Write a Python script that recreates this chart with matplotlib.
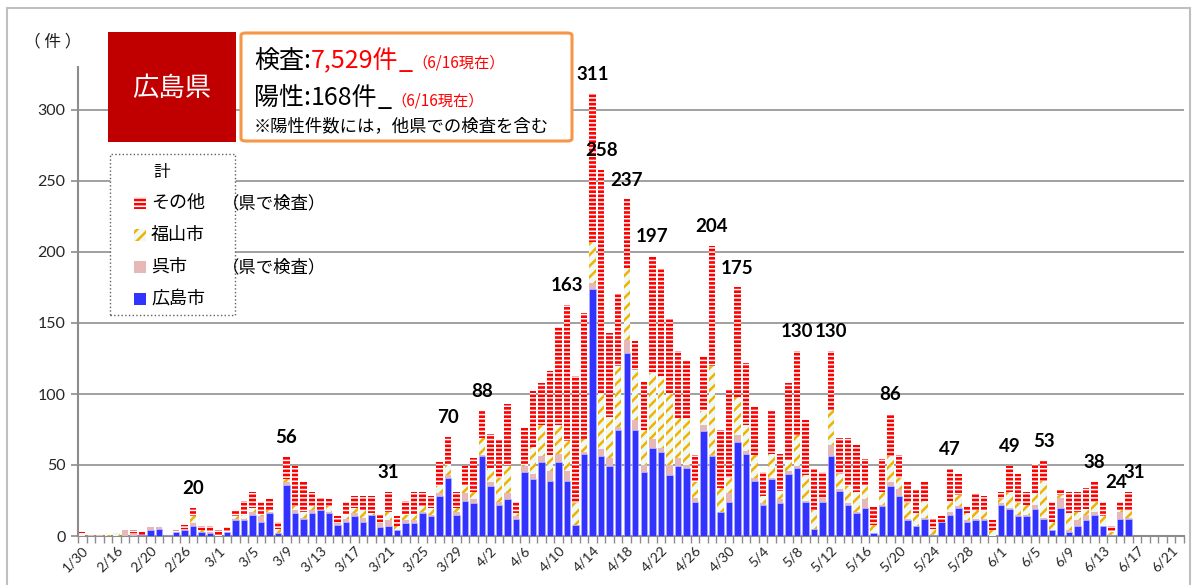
import matplotlib
matplotlib.use('Agg')
import matplotlib.pyplot as plt
from matplotlib.patches import Rectangle, FancyBboxPatch
import numpy as np
import pandas as pd

plt.rcParams['font.family'] = ['Noto Sans CJK JP', 'DejaVu Sans']
plt.rcParams['hatch.linewidth'] = 1.0

# ---------------- data ----------------
early_dates = ['1/30', '2/13', '2/14', '2/15', '2/16', '2/17', '2/18', '2/19',
               '2/20', '2/21', '2/22', '2/25', '2/26', '2/27', '2/28', '2/29']
later_dates = [f'{d.month}/{d.day}' for d in pd.date_range('2020-03-01', '2020-06-22')]
dates = early_dates + later_dates

# 広島市
hiroshima = [0, 0, 0, 0, 0, 0, 0, 1, 4, 5, 1, 3, 4, 7, 3, 2,
             0, 3, 11, 11, 15, 10, 16, 2, 36, 16, 12, 16, 18, 16, 8, 10,
             14, 10, 15, 6, 7, 4, 9, 9, 16, 14, 28, 41, 15, 25, 23, 56,
             35, 22, 26, 12, 45, 40, 52, 39, 52, 39, 8, 58, 174, 56, 49, 75,
             129, 75, 45, 62, 59, 43, 49, 48, 24, 74, 56, 17, 24, 66, 58, 39,
             22, 40, 23, 44, 48, 24, 5, 24, 56, 32, 22, 16, 20, 2, 21, 35,
             28, 11, 7, 12, 1, 10, 15, 20, 10, 11, 11, 0, 22, 19, 14, 14,
             19, 12, 4, 20, 3, 7, 11, 15, 7, 1, 12, 12]
# 呉市（県で検査）
kure = [0, 1, 1, 0, 0, 4, 2, 0, 2, 1, 0, 0, 1, 2, 0, 1,
        0, 0, 1, 1, 2, 4, 1, 0, 2, 2, 1, 2, 0, 1, 1, 2,
        2, 3, 0, 3, 4, 0, 2, 2, 1, 1, 2, 2, 2, 5, 3, 1,
        3, 2, 4, 2, 4, 4, 4, 7, 6, 7, 0, 1, 4, 5, 6, 2,
        9, 7, 5, 6, 3, 7, 6, 2, 3, 4, 1, 0, 6, 5, 2, 2,
        1, 1, 3, 2, 1, 1, 0, 3, 8, 1, 1, 1, 6, 0, 1, 3,
        5, 1, 0, 1, 0, 0, 2, 1, 1, 1, 1, 0, 1, 1, 1, 1,
        3, 1, 0, 7, 1, 4, 4, 2, 0, 0, 5, 1]
# 福山市
fukuyama = [2, 0, 0, 1, 2, 0, 0, 0, 0, 0, 0, 0, 0, 5, 1, 0,
            0, 0, 2, 3, 3, 1, 1, 3, 2, 3, 4, 3, 0, 4, 0, 3,
            4, 5, 1, 0, 6, 3, 4, 4, 4, 5, 5, 7, 3, 5, 5, 12,
            9, 17, 19, 2, 1, 19, 22, 11, 20, 21, 15, 9, 29, 40, 29, 43,
            51, 35, 25, 47, 51, 50, 28, 33, 11, 10, 63, 17, 11, 27, 18, 16,
            5, 17, 6, 7, 22, 18, 13, 0, 25, 11, 12, 14, 9, 6, 9, 18,
            8, 11, 9, 12, 4, 0, 8, 8, 5, 6, 6, 4, 3, 11, 8, 7,
            8, 26, 6, 2, 12, 6, 4, 7, 7, 2, 1, 5]
# その他（県で検査）
other = [1, 0, 0, 0, 0, 0, 2, 2, 0, 0, 0, 1, 3, 6, 3, 4,
         4, 3, 4, 10, 11, 9, 8, 5, 16, 28, 22, 10, 9, 5, 5, 9,
         8, 10, 12, 6, 14, 7, 10, 16, 10, 8, 17, 20, 11, 14, 24, 19,
         25, 27, 44, 8, 26, 39, 30, 59, 69, 96, 90, 89, 104, 157, 59, 51,
         48, 20, 34, 82, 75, 53, 47, 40, 19, 38, 84, 41, 62, 77, 44, 34,
         17, 31, 26, 55, 59, 39, 29, 18, 41, 25, 34, 33, 19, 13, 23, 30,
         16, 16, 17, 13, 8, 4, 22, 15, 5, 12, 10, 7, 5, 18, 21, 9,
         21, 14, 14, 4, 15, 14, 15, 14, 10, 4, 6, 13]

label_dates = ['2/27', '3/9', '3/21', '3/28', '4/1', '4/11', '4/14', '4/15',
               '4/18', '4/21', '4/28', '5/1', '5/8', '5/12', '5/19', '5/26',
               '6/2', '6/6', '6/12', '6/15', '6/16']
label_nudge = {'6/15': -3, '6/16': 4}

n = len(dates)
def pad(a):
    return np.array(list(a) + [0] * (n - len(a)), dtype=float)

b = pad(hiroshima); k = pad(kure); f = pad(fukuyama); o = pad(other)
total = b + k + f + o
x = np.arange(n)

# ---------------- figure ----------------
W, H = 1197, 585
fig = plt.figure(figsize=(W / 100, H / 100), dpi=100)
ax = fig.add_axes([78 / W, 49 / H, (1184 - 78) / W, (536 - 67.4) / H])

BLUE = '#3333FF'
PINK = '#E6B9B8'
RED = '#FF0000'
YEL = '#F2B200'
YFACE = '#EEF8F4'
bw = 0.76

def set_hlw(container, lw):
    for p in container:
        if hasattr(p, 'set_hatch_linewidth'):
            p.set_hatch_linewidth(lw)

ax.bar(x, b, width=bw, color=BLUE, edgecolor='#B8B8FF', linewidth=0.4, zorder=3)
ax.bar(x, k, bottom=b, width=bw, color=PINK, linewidth=0, zorder=3)
c3 = ax.bar(x, f, bottom=b + k, width=bw, facecolor=YFACE, edgecolor=YEL,
            linewidth=0, hatch='///', zorder=3)
set_hlw(c3, 1.8)
c4 = ax.bar(x, o, bottom=b + k + f, width=bw, facecolor=RED, edgecolor='white',
            linewidth=0, hatch='----', zorder=3)
set_hlw(c4, 1.1)

for d in label_dates:
    i = dates.index(d)
    ax.annotate(f'{int(total[i])}', (i, total[i]), xytext=(label_nudge.get(d, 0), 14),
                textcoords='offset points', ha='center', va='center',
                fontsize=13.5, fontweight='bold', family=['Lato', 'DejaVu Sans'],
                color='black', zorder=5)

ax.set_xlim(-0.5, n - 0.5)
ax.set_ylim(0, 330)
ax.set_yticks(np.arange(0, 301, 50))
ax.yaxis.grid(True, color='#A0A0A0', linewidth=1.4, zorder=0)
ax.set_axisbelow(True)
for s in ['top', 'right']:
    ax.spines[s].set_visible(False)
for s in ['left', 'bottom']:
    ax.spines[s].set_color('#8C8C8C')
    ax.spines[s].set_linewidth(1.5)
ax.tick_params(axis='y', direction='out', length=5, color='#8C8C8C', width=1.2,
               labelsize=11.5, labelcolor='#262626', pad=4)
for t in ax.get_yticklabels():
    t.set_family(['Lato', 'DejaVu Sans'])

tick_idx = np.arange(0, n, 4)
ax.set_xticks(tick_idx)
ax.set_xticklabels([dates[i] for i in tick_idx])
ax.set_xticks(np.arange(-0.5, n, 1), minor=True)
ax.tick_params(axis='x', which='major', length=0, pad=6, labelsize=10, labelcolor='#262626')
ax.tick_params(axis='x', which='minor', length=5, color='#8C8C8C', width=1.0)
for t in ax.get_xticklabels():
    t.set_rotation(45)
    t.set_ha('right')
    t.set_va('top')
    t.set_rotation_mode('anchor')
    t.set_family(['Lato', 'DejaVu Sans'])

def fx(px):
    return px / W

def fy(py):
    return 1 - py / H

# outer frame
fig.add_artist(Rectangle((fx(7), -0.02), fx(1190) - fx(7), fy(8) + 0.02,
                         transform=fig.transFigure, fill=False,
                         edgecolor='#BFBFBF', linewidth=1.5))

# unit label
fig.text(fx(53), fy(42), '（ 件 ）', ha='center', va='center', fontsize=12, color='#202020')

# red title box
fig.add_artist(Rectangle((fx(108), fy(142)), fx(236) - fx(108), fy(32) - fy(142),
                         transform=fig.transFigure, facecolor='#C00000',
                         edgecolor='none', zorder=6))
fig.text(fx(172), fy(88), '広島県', ha='center', va='center', fontsize=19,
         color='white', zorder=7)

# orange info box
fig.add_artist(FancyBboxPatch((fx(241), fy(141)), fx(572) - fx(241), fy(33) - fy(141),
                              boxstyle='round,pad=0,rounding_size=0.004',
                              transform=fig.transFigure, facecolor='white',
                              edgecolor='#F79646', linewidth=2.2, zorder=6))

renderer = fig.canvas.get_renderer()

def line(pieces, x0, base):
    xp = x0
    for txt, size, col in pieces:
        t = fig.text(fx(xp), fy(base), txt, ha='left', va='baseline',
                     fontsize=size, color=col, zorder=7)
        bb = t.get_window_extent(renderer=renderer)
        xp += bb.width

line([('検査:', 18, 'black'), ('7,529件', 18, '#FF0000'), ('_', 18, '#FF0000'),
      ('（6/16現在）', 11, '#FF0000')], 254, 68)
line([('陽性:', 18, 'black'), ('168件', 18, 'black'), ('_', 18, 'black'),
      ('（6/16現在）', 11, '#FF0000')], 254, 105)
line([('※陽性件数には，他県での検査を含む', 12.5, 'black')], 254, 131)

# legend box
fig.add_artist(Rectangle((fx(110), fy(315)), fx(235) - fx(110), fy(154) - fy(315),
                         transform=fig.transFigure, facecolor='white',
                         edgecolor='#606060', linewidth=1.0, linestyle=':', zorder=6))
fig.text(fx(162), fy(172), '計', ha='center', va='center', fontsize=12, zorder=7)
rows = [(203, 'その他', '（県で検査）', dict(facecolor=RED, edgecolor='white', hatch='----', lw=1.2)),
        (235, '福山市', '', dict(facecolor=YFACE, edgecolor=YEL, hatch='///', lw=1.8)),
        (267, '呉市', '（県で検査）', dict(facecolor=PINK, edgecolor='none', hatch=None, lw=0)),
        (299, '広島市', '', dict(facecolor=BLUE, edgecolor='none', hatch=None, lw=0))]
for yy, name, note, st in rows:
    r = Rectangle((fx(134), fy(yy + 6)), fx(146) - fx(134), fy(yy - 6) - fy(yy + 6),
                  transform=fig.transFigure, facecolor=st['facecolor'],
                  edgecolor=st['edgecolor'], hatch=st['hatch'], linewidth=0, zorder=7)
    if st['hatch'] and hasattr(r, 'set_hatch_linewidth'):
        r.set_hatch_linewidth(st['lw'])
    fig.add_artist(r)
    fig.text(fx(151), fy(yy), name, ha='left', va='center', fontsize=13, zorder=7)
    if note:
        fig.text(fx(222), fy(yy), note, ha='left', va='center', fontsize=12.5, zorder=7)

fig.savefig('out.png', dpi=100)
